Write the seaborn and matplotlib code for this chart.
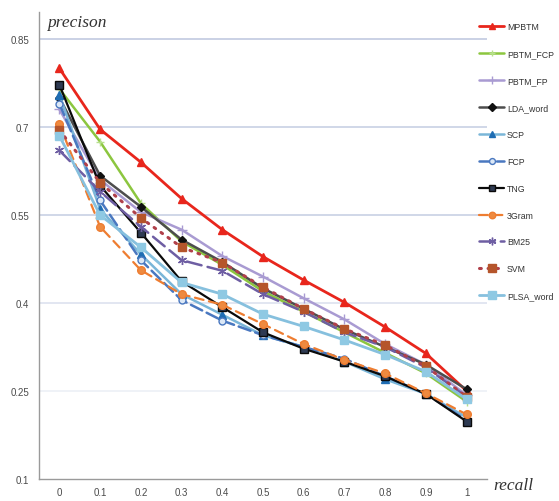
import matplotlib
matplotlib.use("Agg")
import matplotlib.pyplot as plt
import seaborn as sns
import numpy as np
import pandas as pd

recall_labels = ["0", "0.1", "0.2", "0.3", "0.4", "0.5", "0.6", "0.7", "0.8", "0.9", "1"]
y_ticks = [0.1, 0.25, 0.4, 0.55, 0.7, 0.85]
y_tick_labels = ["0.1", "0.25", "0.4", "0.55", "0.7", "0.85"]

series_names = ["MPBTM", "PBTM_FCP", "PBTM_FP", "LDA_word", "SCP", "FCP",
                "TNG", "3Gram", "BM25", "SVM", "PLSA_word"]

mpbtm     = [0.800, 0.696, 0.640, 0.578, 0.525, 0.479, 0.439, 0.401, 0.359, 0.314, 0.250]
pbtm_fcp  = [0.765, 0.675, 0.570, 0.505, 0.465, 0.420, 0.385, 0.350, 0.315, 0.280, 0.232]
pbtm_fp   = [0.730, 0.610, 0.555, 0.525, 0.480, 0.445, 0.408, 0.372, 0.330, 0.295, 0.243]
lda_word  = [0.750, 0.617, 0.564, 0.508, 0.470, 0.425, 0.390, 0.355, 0.325, 0.295, 0.253]
scp       = [0.755, 0.560, 0.483, 0.415, 0.380, 0.345, 0.325, 0.300, 0.270, 0.245, 0.205]
fcp       = [0.740, 0.575, 0.473, 0.405, 0.370, 0.345, 0.325, 0.305, 0.275, 0.245, 0.200]
tng       = [0.772, 0.600, 0.520, 0.437, 0.393, 0.350, 0.322, 0.300, 0.275, 0.245, 0.198]
gram3     = [0.705, 0.530, 0.456, 0.415, 0.397, 0.364, 0.330, 0.303, 0.280, 0.246, 0.210]
bm25      = [0.660, 0.590, 0.530, 0.473, 0.455, 0.415, 0.385, 0.350, 0.325, 0.290, 0.240]
svm       = [0.695, 0.605, 0.545, 0.495, 0.469, 0.427, 0.390, 0.356, 0.328, 0.292, 0.240]
plsa_word = [0.685, 0.550, 0.495, 0.435, 0.415, 0.381, 0.360, 0.337, 0.312, 0.283, 0.236]

all_values = [mpbtm, pbtm_fcp, pbtm_fp, lda_word, scp, fcp, tng, gram3, bm25, svm, plsa_word]

styles = {
    "MPBTM":     dict(color="#e8261c", lw=2.0, ls="-", marker="^", ms=5.5, mfc="#e8261c", mec="#e8261c"),
    "PBTM_FCP":  dict(color="#8cc63f", lw=1.8, ls="-", marker="+", ms=5.5, mfc="#b6e08a", mec="#b6e08a"),
    "PBTM_FP":   dict(color="#a99bd2", lw=1.8, ls="-", marker="+", ms=6.5, mfc="#a99bd2", mec="#a99bd2"),
    "LDA_word":  dict(color="#4d4d4d", lw=1.8, ls="-", marker="D", ms=4.5, mfc="#111111", mec="#111111"),
    "SCP":       dict(color="#7ab6d8", lw=1.8, ls="-", marker="^", ms=5.5, mfc="#1f6db3", mec="#1f6db3"),
    "FCP":       dict(color="#4a78c0", lw=1.8, ls=(0, (5, 2)), marker="o", ms=5, mfc="#dce8f6", mec="#4a78c0"),
    "TNG":       dict(color="#0a0a0a", lw=1.6, ls="-", marker="s", ms=5.5, mfc="#2e3a52", mec="#0a0a0a"),
    "3Gram":     dict(color="#ee7d31", lw=1.6, ls=(0, (4, 2.5)), marker="o", ms=5.5, mfc="#ee8a40", mec="#ee7d31"),
    "BM25":      dict(color="#6e5ea3", lw=1.8, ls=(0, (6, 2.5)), marker=(6, 2, 0), ms=6.5, mfc="#6e5ea3", mec="#6e5ea3"),
    "SVM":       dict(color="#b0404a", lw=2.2, ls=(0, (0.6, 2.2)), marker="s", ms=6, mfc="#b5552b", mec="#b5552b"),
    "PLSA_word": dict(color="#86c0de", lw=2.0, ls="-", marker="s", ms=6, mfc="#8fc9e3", mec="#8fc9e3"),
}

sns.set_style("white")

fig = plt.figure(figsize=(5.59, 5.02), dpi=100)
ax = fig.add_axes([39 / 559, 22 / 502, (487 - 39) / 559, (489 - 22) / 502])

x_pos = np.arange(len(recall_labels))
handles = []
for name, vals in zip(series_names, all_values):
    st = styles[name]
    df = pd.DataFrame({"x": x_pos, "y": vals})
    sns.lineplot(data=df, x="x", y="y", ax=ax, color=st["color"], linewidth=st["lw"],
                 linestyle=st["ls"], marker=st["marker"], markersize=st["ms"],
                 markerfacecolor=st["mfc"], markeredgecolor=st["mec"], markeredgewidth=1.0,
                 legend=False, clip_on=False)
    line = ax.lines[-1]
    line.set_dash_capstyle("round")
    line.set_label(name)
    handles.append(line)

ax.set_xlim(-0.5, 10.5)
ax.set_ylim(0.1, 0.1 + (480 - 13) / 586.7)

ax.set_yticks(y_ticks)
ax.set_yticklabels(y_tick_labels)
ax.set_xticks(x_pos)
ax.set_xticklabels(recall_labels)
ax.set_xticks(np.arange(-0.5, 11, 1), minor=True)
ax.set_xlabel("")
ax.set_ylabel("")

sans = ["Liberation Sans", "DejaVu Sans"]
for lab in ax.get_yticklabels() + ax.get_xticklabels():
    lab.set_fontfamily(sans)
    lab.set_fontsize(7)
    lab.set_color("#4a4a4a")

ax.tick_params(axis="x", which="major", length=0, pad=6)
ax.tick_params(axis="x", which="minor", length=4, direction="in", color="#9a9a9a")
ax.tick_params(axis="y", which="major", length=4, direction="out", color="#9a9a9a", pad=3)

for side in ["top", "right"]:
    ax.spines[side].set_visible(False)
for side in ["left", "bottom"]:
    ax.spines[side].set_color("#9a9a9a")
    ax.spines[side].set_linewidth(1.0)

ax.yaxis.grid(True)
grid_colors = ["#ffffff", "#eef1f7", "#dfe4f0", "#cdd4e6", "#cdd4e6", "#c6cee3"]
for gl, c in zip(ax.get_ygridlines(), grid_colors):
    gl.set_color(c)
    gl.set_linewidth(1.3)
ax.set_axisbelow(True)

fig.text(47 / 559, 1 - 27 / 502, "precison", family=["Liberation Serif", "DejaVu Serif"],
         style="italic", fontsize=12.5, color="#333333", ha="left", va="baseline")
fig.text(493 / 559, 1 - 490 / 502, "recall", family=["Liberation Serif", "DejaVu Serif"],
         style="italic", fontsize=12.5, color="#333333", ha="left", va="baseline")

leg = fig.legend(handles=handles, labels=series_names, loc="upper left",
                 bbox_to_anchor=(479 / 559, 1 - 23 / 502), frameon=False,
                 prop={"family": sans, "size": 6.3},
                 labelspacing=2.05, handlelength=2.9, handletextpad=0.3,
                 borderpad=0, borderaxespad=0, numpoints=1, markerscale=0.85)
for t in leg.get_texts():
    t.set_color("#333333")

fig.savefig("out.png", dpi=100)
